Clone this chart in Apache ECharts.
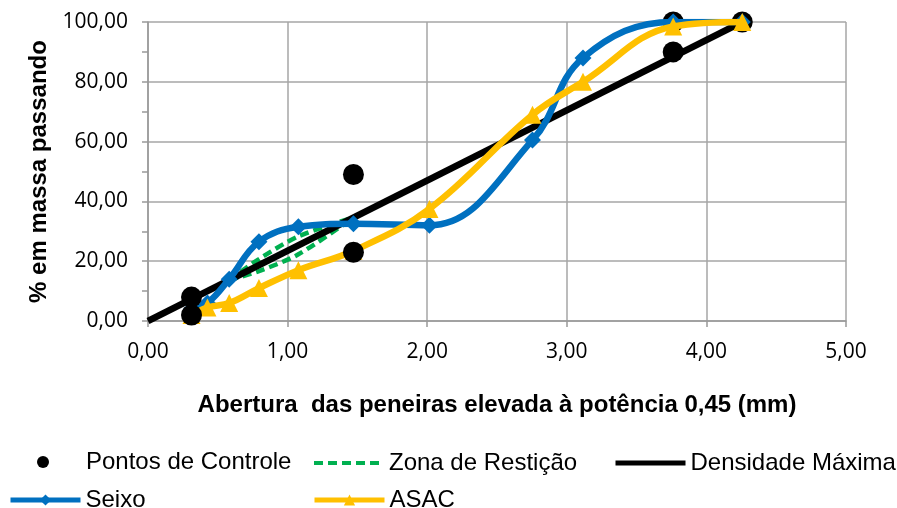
<!DOCTYPE html>
<html>
<head>
<meta charset="utf-8">
<script src="https://cdn.jsdelivr.net/npm/echarts@6/dist/echarts.min.js"></script>
<style>
  html, body { margin: 0; padding: 0; background: #fff; }
  #chart { width: 897px; height: 508px; }
</style>
</head>
<body>
<div id="chart"></div>
<script>
// Sieve openings (mm); the x axis shows opening^0.45
const sieveSizes = [0.075, 0.15, 0.3, 0.6, 1.18, 2.36, 4.75, 9.5, 12.5, 19, 25];
const seixoPassing = [4, 6, 14, 26.5, 31.5, 32.5, 32, 60.5, 88, 100, 100];
const asacPassing = [2, 4.5, 6, 11, 17, 23.5, 37.5, 69, 80, 98.5, 100];

// Control points (Superpave, 19 mm nominal)
const controlSieves = [0.075, 0.075, 2.36, 2.36, 19, 19, 25];
const controlPassing = [2, 8, 23, 49, 90, 100, 100];

// Restricted zone limits
const zoneSieves = [0.3, 0.6, 1.18, 2.36];
const zoneUpper = [13.7, 20.7, 28.3, 34.6];
const zoneLower = [13.7, 16.7, 22.3, 34.6];

// Maximum density line
const densitySieves = [0, 25];
const densityPassing = [0, 100];

const yTicks = [0, 20, 40, 60, 80, 100];
const xTicks = [0, 1, 2, 3, 4, 5];

const pw = d => Math.pow(d, 0.45);
const pairs = (xs, ys) => xs.map((d, i) => [pw(d), ys[i]]);
const fmt = v => v.toFixed(2).replace('.', ',');

const controlPairs = pairs(controlSieves, controlPassing);
const FONT = 'Liberation Sans, Arial, sans-serif';
const TICKFONT = 'Open Sans, sans-serif';
const LINE_W = 6.5;

const chart = echarts.init(document.getElementById('chart'), null, { renderer: 'canvas' });

const legendBase = {
  orient: 'horizontal',
  itemWidth: 70,
  itemHeight: 14,
  lineStyle: { width: 5 },
  textStyle: { fontFamily: FONT, fontSize: 24, color: '#000' },
  padding: 0
};

const noMarker = { opacity: 0 };

chart.setOption({
  backgroundColor: '#fff',
  animation: false,
  grid: { left: 148, right: 51, top: 22, bottom: 187, containLabel: false },
  xAxis: {
    type: 'value',
    min: xTicks[0], max: xTicks[xTicks.length - 1], interval: 1,
    name: 'Abertura  das peneiras elevada à potência 0,45 (mm)',
    nameLocation: 'middle',
    nameGap: 72,
    nameTextStyle: { fontFamily: FONT, fontSize: 24, fontWeight: 'bold', color: '#000' },
    axisLine: { show: true, lineStyle: { color: '#999', width: 1.5 } },
    axisTick: { show: true, length: 6, lineStyle: { color: '#999', width: 1.5 } },
    splitLine: { show: true, lineStyle: { color: '#a6a6a6', width: 1.5 } },
    axisLabel: { margin: 21, fontFamily: TICKFONT, fontSize: 21, color: '#000', formatter: fmt }
  },
  yAxis: {
    type: 'value',
    min: yTicks[0], max: yTicks[yTicks.length - 1], interval: 20,
    name: '% em massa passando',
    nameLocation: 'middle',
    nameGap: 97,
    nameTextStyle: { fontFamily: FONT, fontSize: 24, fontWeight: 'bold', color: '#000' },
    axisLine: { show: true, lineStyle: { color: '#999', width: 1.5 } },
    axisTick: { show: true, length: 6, lineStyle: { color: '#999', width: 1.5 } },
    minorTick: { show: true, splitNumber: 2, length: 6, lineStyle: { color: '#999', width: 1.5 } },
    splitLine: { show: true, lineStyle: { color: '#a6a6a6', width: 1.5 } },
    axisLabel: { margin: 20, fontFamily: TICKFONT, fontSize: 21, color: '#000', formatter: fmt }
  },
  legend: [
    Object.assign({}, legendBase, {
      left: 37, top: 450, itemWidth: 12, itemHeight: 12,
      textStyle: { fontFamily: FONT, fontSize: 24, color: '#000', padding: [0, 0, 0, 32] },
      data: [{ name: 'Pontos de Controle', icon: 'circle' }]
    }),
    Object.assign({}, legendBase, { left: 312, top: 451, lineStyle: { width: 4 }, data: [{ name: 'Zona de Restição', itemStyle: noMarker }] }),
    Object.assign({}, legendBase, { left: 613, top: 451, data: [{ name: 'Densidade Máxima', itemStyle: noMarker }] }),
    Object.assign({}, legendBase, { left: 8, top: 488, data: ['Seixo'] }),
    Object.assign({}, legendBase, { left: 312, top: 488, data: ['ASAC'] })
  ],
  series: [
    {
      name: 'Pontos de Controle', type: 'scatter', z: 1,
      symbol: 'circle', symbolSize: 21,
      itemStyle: { color: '#000', opacity: 1 },
      data: controlPairs.filter(p => p[0] > 3)
    },
    {
      name: 'Zona de Restição', type: 'line', z: 2, smooth: 0.3,
      showSymbol: false, symbol: 'none',
      lineStyle: { color: '#00b050', width: 4.5, type: [9, 5] },
      itemStyle: { color: '#00b050' },
      data: pairs(zoneSieves, zoneUpper)
    },
    {
      name: 'Zona de Restição', type: 'line', z: 2, smooth: 0.3,
      showSymbol: false, symbol: 'none',
      lineStyle: { color: '#00b050', width: 4.5, type: [9, 5] },
      itemStyle: { color: '#00b050' },
      data: pairs(zoneSieves, zoneLower)
    },
    {
      name: 'Densidade Máxima', type: 'line', z: 3,
      showSymbol: false, symbol: 'none',
      lineStyle: { color: '#000', width: LINE_W },
      itemStyle: { color: '#000' },
      data: pairs(densitySieves, densityPassing)
    },
    {
      name: 'Seixo', type: 'line', z: 4, smooth: 0.4,
      symbol: 'diamond', symbolSize: 17, showSymbol: true,
      lineStyle: { color: '#0070c0', width: LINE_W },
      itemStyle: { color: '#0070c0' },
      data: pairs(sieveSizes, seixoPassing)
    },
    {
      name: 'ASAC', type: 'line', z: 5, smooth: 0.4,
      symbol: 'triangle', symbolSize: 18, showSymbol: true,
      lineStyle: { color: '#ffc000', width: LINE_W },
      itemStyle: { color: '#ffc000' },
      data: pairs(sieveSizes, asacPassing)
    },
    {
      name: 'Pontos de Controle', type: 'scatter', z: 6,
      symbol: 'circle', symbolSize: 21,
      itemStyle: { color: '#000', opacity: 1 },
      data: controlPairs.filter(p => p[0] <= 3)
    }
  ]
});
</script>
</body>
</html>
